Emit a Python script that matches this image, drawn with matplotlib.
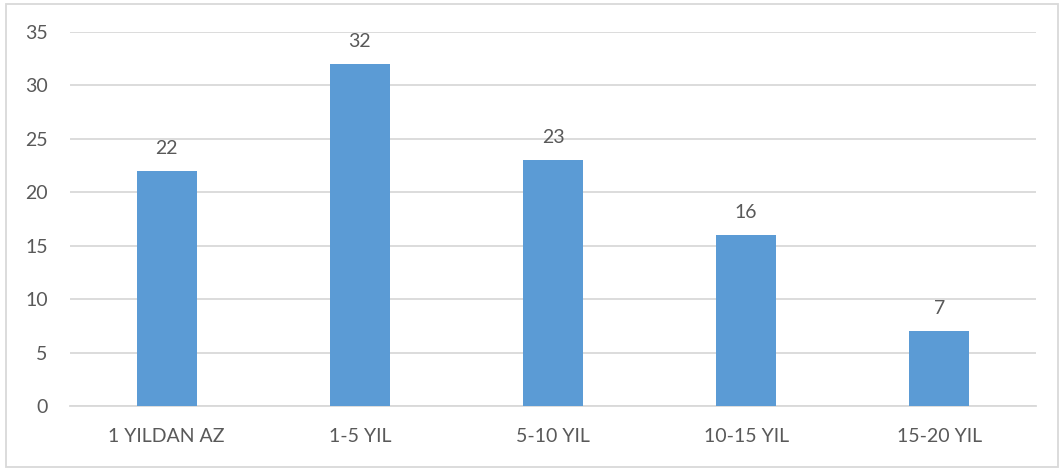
import matplotlib.pyplot as plt
from matplotlib.patches import Rectangle

categories = ['1 YILDAN AZ', '1-5 YIL', '5-10 YIL', '10-15 YIL', '15-20 YIL']
counts = [22, 32, 23, 16, 7]

text_color = '#595959'
grid_color = '#D9D9D9'
bar_color = '#5B9BD5'

plt.rcParams['font.family'] = ['Lato', 'DejaVu Sans']

fig = plt.figure(figsize=(10.59, 4.70), dpi=100)
ax = fig.add_axes([0.0661, 0.1362, 0.9122, 0.7957])

x = range(len(categories))
bars = ax.bar(x, counts, width=0.31, color=bar_color, zorder=3)

for rect, val in zip(bars, counts):
    ax.annotate(str(val), (rect.get_x() + rect.get_width() / 2, val),
                xytext=(0, 10), textcoords='offset points',
                ha='center', va='bottom', fontsize=14, color=text_color)

ax.set_xlim(-0.5, len(categories) - 0.5)
ax.set_ylim(0, 35)
ax.set_yticks(range(0, 36, 5))
ax.set_xticks(list(x))
ax.set_xticklabels(categories)

ax.grid(axis='y', color=grid_color, linewidth=1.3, zorder=0)
for side in ['top', 'right', 'left']:
    ax.spines[side].set_visible(False)
ax.spines['bottom'].set_color(grid_color)
ax.spines['bottom'].set_linewidth(1.3)

ax.tick_params(axis='both', length=0, labelsize=14, labelcolor=text_color)
ax.tick_params(axis='y', pad=16)
ax.tick_params(axis='x', pad=16)

# chart area border
fig.patches.append(Rectangle((6 / 1059, 3 / 470), 1 - 7 / 1059, 1 - 7 / 470,
                             transform=fig.transFigure, fill=False,
                             edgecolor=grid_color, linewidth=1.3))

fig.savefig('out.png', dpi=100)
